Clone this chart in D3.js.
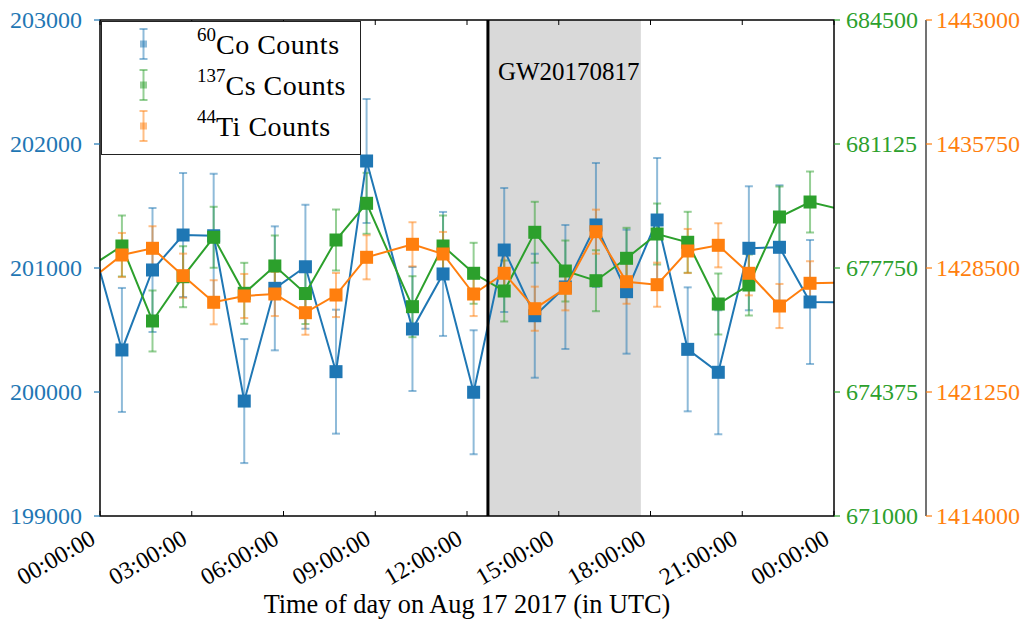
<!DOCTYPE html>
<html><head><meta charset="utf-8">
<script src="https://cdn.jsdelivr.net/npm/d3@7"></script>
<style>
body{margin:0;background:#fff}
text{font-family:"Liberation Serif","Times New Roman",serif}
</style>
</head><body>
<svg id="chart" width="1025" height="621"></svg>
<script>
// ---- data ----
const times = ["2017-08-16T23:43","2017-08-17T00:43","2017-08-17T01:43","2017-08-17T02:43","2017-08-17T03:43",
  "2017-08-17T04:43","2017-08-17T05:43","2017-08-17T06:43","2017-08-17T07:43","2017-08-17T08:43",
  "2017-08-17T10:13","2017-08-17T11:13","2017-08-17T12:13","2017-08-17T13:13","2017-08-17T14:13",
  "2017-08-17T15:13","2017-08-17T16:13","2017-08-17T17:13","2017-08-17T18:13","2017-08-17T19:13",
  "2017-08-17T20:13","2017-08-17T21:13","2017-08-17T22:13","2017-08-17T23:13","2017-08-18T00:13"];
const co60 = [201225, 200339, 200984, 201266, 201260, 199927, 200836, 201010, 200164, 201863,
  200508, 200952, 199998, 201145, 200615, 200847, 201347, 200809, 201387, 200344,
  200159, 201159, 201167, 200726, 200722];
const cs137 = [677807, 678349, 676308, 677513, 678586, 677061, 677805, 677055, 678512, 679511,
  676697, 678349, 677606, 677124, 678722, 677668, 677404, 678014, 678675, 678450,
  676770, 677287, 679138, 679546, 679345];
const ti44 = [1427845, 1429260, 1429652, 1428050, 1426495, 1426863, 1426980, 1425887, 1426921, 1429126,
  1429886, 1429319, 1426980, 1428190, 1426120, 1427313, 1430623, 1427699, 1427524, 1429494,
  1429827, 1428190, 1426278, 1427606, 1427641];
const co60Err = 500, cs137Err = 830, ti44Err = 1290;
const xTicks = ["2017-08-17T00:00","2017-08-17T03:00","2017-08-17T06:00","2017-08-17T09:00","2017-08-17T12:00",
  "2017-08-17T15:00","2017-08-17T18:00","2017-08-17T21:00","2017-08-18T00:00"];
const xDomain = ["2017-08-17T00:00","2017-08-18T00:00"];
const coTicks = [199000, 200000, 201000, 202000, 203000];
const csTicks = [671000, 674375, 677750, 681125, 684500];
const tiTicks = [1414000, 1421250, 1428500, 1435750, 1443000];
const gwTime = "2017-08-17T12:41:04";
const shadeEnd = "2017-08-17T17:41:04";
const gwLabel = "GW20170817";
const xLabel = "Time of day on Aug 17 2017 (in UTC)";
const legendItems = [["60","Co Counts"],["137","Cs Counts"],["44","Ti Counts"]];

// ---- layout ----
const L = 100, R = 834, T = 20, B = 516;
const C0 = "#1f77b4", C1 = "#2ca02c", C2 = "#ff7f0e";
const parse = d3.utcParse("%Y-%m-%dT%H:%M");
const parseS = d3.utcParse("%Y-%m-%dT%H:%M:%S");
const svg = d3.select("#chart");

const x = d3.scaleUtc().domain(xDomain.map(parse)).range([L, R]);
const yCo = d3.scaleLinear().domain([coTicks[0], coTicks[4]]).range([B, T]);
const yCs = d3.scaleLinear().domain([csTicks[0], csTicks[4]]).range([B, T]);
const yTi = d3.scaleLinear().domain([tiTicks[0], tiTicks[4]]).range([B, T]);

svg.append("defs").append("clipPath").attr("id","clip")
  .append("rect").attr("x",L).attr("y",T).attr("width",R-L).attr("height",B-T);

// shaded span
svg.append("rect").attr("x", x(parseS(gwTime))).attr("y", T)
  .attr("width", x(parseS(shadeEnd)) - x(parseS(gwTime))).attr("height", B-T)
  .attr("fill", "#d9d9d9");

const series = [
  {vals: co60, err: co60Err, y: yCo, c: C0},
  {vals: cs137, err: cs137Err, y: yCs, c: C1},
  {vals: ti44, err: ti44Err, y: yTi, c: C2}
];
const tParsed = times.map(parse);
const plot = svg.append("g").attr("clip-path","url(#clip)");

// error bars
series.forEach(s => {
  const g = plot.append("g").attr("stroke", s.c).attr("stroke-opacity", 0.5).attr("stroke-width", 2).attr("fill","none");
  s.vals.forEach((v,i) => {
    const xx = x(tParsed[i]), y1 = s.y(v - s.err), y2 = s.y(v + s.err);
    g.append("line").attr("x1",xx).attr("x2",xx).attr("y1",y1).attr("y2",y2);
    g.append("line").attr("x1",xx-4).attr("x2",xx+4).attr("y1",y1).attr("y2",y1);
    g.append("line").attr("x1",xx-4).attr("x2",xx+4).attr("y1",y2).attr("y2",y2);
  });
});
// lines + markers
series.forEach(s => {
  const line = d3.line().x((d,i)=>x(tParsed[i])).y(d=>s.y(d));
  plot.append("path").attr("d", line(s.vals)).attr("fill","none").attr("stroke", s.c).attr("stroke-width", 2);
  plot.append("g").selectAll("rect").data(s.vals).join("rect")
    .attr("x",(d,i)=>x(tParsed[i])-6.5).attr("y",d=>s.y(d)-6.5)
    .attr("width",13).attr("height",13).attr("fill", s.c);
});

// GW line
svg.append("line").attr("x1", x(parseS(gwTime))).attr("x2", x(parseS(gwTime)))
  .attr("y1", T).attr("y2", B).attr("stroke","#000").attr("stroke-width",3);
svg.append("text").attr("x", x(parseS(gwTime)) + 10).attr("y", 80)
  .attr("font-size", 25).attr("fill","#000").text(gwLabel);

// frame
svg.append("rect").attr("x",L).attr("y",T).attr("width",R-L).attr("height",B-T)
  .attr("fill","none").attr("stroke","#000").attr("stroke-width",1.5);

// x ticks (inward top & bottom) and labels
const xt = xTicks.map(parse);
const gx = svg.append("g");
xt.forEach(t => {
  const xx = x(t);
  gx.append("line").attr("x1",xx).attr("x2",xx).attr("y1",B).attr("y2",B-5).attr("stroke","#000");
  gx.append("line").attr("x1",xx).attr("x2",xx).attr("y1",T).attr("y2",T+5).attr("stroke","#000");
  gx.append("text").attr("transform",`translate(${xx-3},${B+27}) rotate(-30)`)
    .attr("text-anchor","end").attr("font-size",24).attr("fill","#000")
    .text(d3.utcFormat("%H:%M:%S")(t));
});
svg.append("text").attr("x",(L+R)/2).attr("y",613).attr("text-anchor","middle")
  .attr("font-size",26.3).attr("fill","#000").text(xLabel);

// left axis (Co)
const gl = svg.append("g");
coTicks.forEach(v => {
  gl.append("line").attr("x1",L-6).attr("x2",L).attr("y1",yCo(v)).attr("y2",yCo(v)).attr("stroke",C0).attr("stroke-width",1.2);
  gl.append("text").attr("x",82).attr("y",yCo(v)).attr("dy","0.35em").attr("text-anchor","end")
    .attr("font-size",24).attr("fill",C0).text(v);
});
// right axis (Cs)
const gr = svg.append("g");
csTicks.forEach(v => {
  gr.append("line").attr("x1",R).attr("x2",R+6).attr("y1",yCs(v)).attr("y2",yCs(v)).attr("stroke",C1).attr("stroke-width",1.2);
  gr.append("text").attr("x",846).attr("y",yCs(v)).attr("dy","0.35em")
    .attr("font-size",24).attr("fill",C1).text(v);
});
// offset right axis (Ti)
const RX = 926;
const gt = svg.append("g");
gt.append("line").attr("x1",RX).attr("x2",RX).attr("y1",T).attr("y2",B).attr("stroke","#444").attr("stroke-width",1.5);
tiTicks.forEach(v => {
  gt.append("line").attr("x1",RX).attr("x2",RX+6).attr("y1",yTi(v)).attr("y2",yTi(v)).attr("stroke",C2).attr("stroke-width",1.2);
  gt.append("text").attr("x",936).attr("y",yTi(v)).attr("dy","0.35em")
    .attr("font-size",24).attr("fill",C2).text(v);
});

// legend
const lg = svg.append("g");
lg.append("rect").attr("x",101.5).attr("y",21.5).attr("width",259).attr("height",133)
  .attr("fill","#fff").attr("stroke","#222").attr("stroke-width",1);
[C0,C1,C2].forEach((c,i) => {
  const cy = 44 + i*41, hx = 143.5;
  const g = lg.append("g").attr("stroke",c).attr("stroke-opacity",0.5).attr("stroke-width",2);
  g.append("line").attr("x1",hx).attr("x2",hx).attr("y1",cy-15).attr("y2",cy+15);
  g.append("line").attr("x1",hx-4).attr("x2",hx+4).attr("y1",cy-15).attr("y2",cy-15);
  g.append("line").attr("x1",hx-4).attr("x2",hx+4).attr("y1",cy+15).attr("y2",cy+15);
  lg.append("rect").attr("x",hx-3.5).attr("y",cy-3.5).attr("width",7).attr("height",7)
    .attr("fill",c).attr("fill-opacity",0.5);
  const tx = lg.append("text").attr("x",197).attr("y",cy+10).attr("fill","#000");
  tx.append("tspan").attr("font-size",19).attr("dy",-13).text(legendItems[i][0]);
  tx.append("tspan").attr("font-size",28).attr("dy",13).attr("letter-spacing",0.5).text(legendItems[i][1]);
});
</script>
</body></html>
